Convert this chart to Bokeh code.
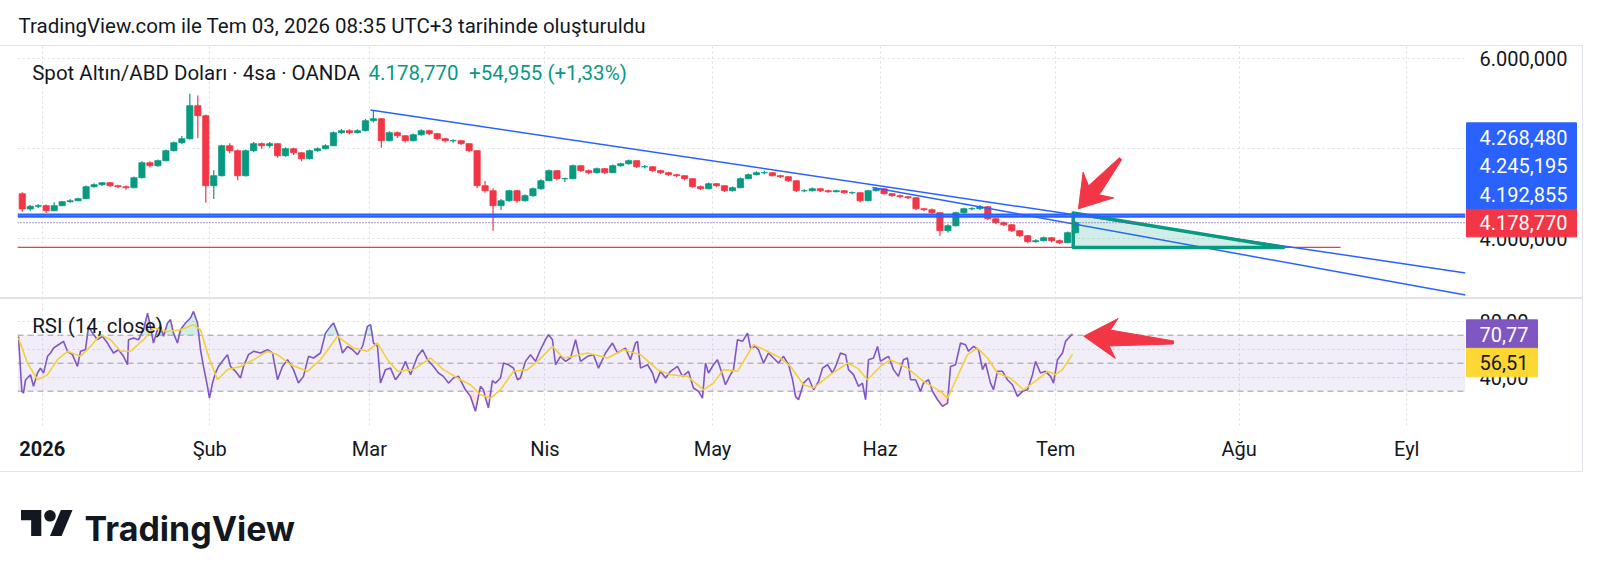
import math
import numpy as np
from bokeh.plotting import figure
from bokeh.layouts import column
from bokeh.models import Range1d, FixedTicker, Label, BoxAnnotation, Span, ColumnDataSource
from bokeh.embed import file_html
from bokeh.resources import INLINE
from bokeh.core.properties import value

# ---------------- texts ----------------
HEADER = "TradingView.com ile Tem 03, 2026 08:35 UTC+3 tarihinde oluşturuldu"
SYMBOL = "Spot Altın/ABD Doları · 4sa · OANDA"
LAST_PRICE = 4178.770
CHANGE = 54.955
CHANGE_PCT = 1.33
RSI_TITLE = "RSI (14, close)"
BRAND = "TradingView"

# ---------------- x axis: trading-day index (first session of 2026 = 0) ----------------
month_pos = [0, 21, 41, 63, 84, 105, 127, 150, 171]
month_labels = ["2026", "Şub", "Mar", "Nis", "May", "Haz", "Tem", "Ağu", "Eyl"]

# ---------------- daily candles, Dec 29 .. Jul 3 ----------------
first_day = -3
first_open = 4500
closes = [4330, 4360, 4367, 4311, 4367, 4411, 4422, 4444, 4578,
          4600, 4622, 4589, 4578, 4567, 4678, 4844, 4811, 4867, 4978,
          5067, 5111, 5478, 5367, 4589, 4700, 5033, 4978, 4700, 4978,
          5056, 5033, 5056, 4922, 5000, 4955, 4889, 4978, 5000, 5033,
          5178, 5200, 5178, 5200, 5311, 5333, 5089, 5178, 5144, 5089,
          5155, 5200, 5167, 5111, 5089, 5089, 5056, 4978, 4589, 4533,
          4367, 4422, 4533, 4422, 4478, 4555, 4644, 4756, 4667,
          4667, 4811, 4756, 4733, 4778, 4733, 4811, 4833, 4867, 4800,
          4800, 4756, 4733, 4711, 4700, 4667, 4578, 4555, 4611, 4589,
          4533, 4567, 4667, 4711, 4733, 4733, 4700, 4689, 4644, 4533,
          4533, 4555, 4533, 4522, 4533, 4511, 4511, 4422, 4533, 4555,
          4500, 4478, 4467, 4455, 4333, 4322, 4289, 4089, 4144, 4289,
          4333, 4333, 4355, 4222, 4178, 4155, 4089, 4033, 3967, 3978,
          4011, 3978, 3955, 4067, 4178.77]
highs = [4515, 4375, 4385, 4380, 4405, 4420, 4440, 4455, 4590,
         4615, 4630, 4630, 4600, 4590, 4690, 4860, 4860, 4880, 4990,
         5080, 5140, 5611, 5590, 5380, 4760, 5045, 5060, 4990, 4990,
         5075, 5070, 5075, 5060, 5015, 5010, 4960, 4990, 5015, 5050,
         5190, 5220, 5215, 5215, 5330, 5430, 5340, 5195, 5190, 5150,
         5170, 5215, 5210, 5175, 5120, 5105, 5095, 5060, 4985, 4640,
         4560, 4440, 4545, 4540, 4495, 4570, 4660, 4770, 4760,
         4680, 4825, 4815, 4770, 4790, 4785, 4825, 4845, 4880, 4870,
         4820, 4805, 4765, 4740, 4720, 4705, 4670, 4590, 4625, 4620,
         4595, 4580, 4680, 4725, 4750, 4755, 4740, 4710, 4695, 4650,
         4550, 4570, 4560, 4545, 4545, 4540, 4525, 4515, 4545, 4570,
         4560, 4505, 4490, 4475, 4460, 4345, 4335, 4295, 4160, 4300,
         4345, 4350, 4375, 4360, 4230, 4190, 4160, 4095, 4040, 3995,
         4025, 4020, 3990, 4080, 4190]
lows = [4300, 4310, 4340, 4285, 4305, 4360, 4400, 4415, 4440,
        4565, 4585, 4575, 4560, 4545, 4560, 4670, 4790, 4800, 4860,
        4970, 5050, 5100, 5120, 4400, 4440, 4690, 4950, 4650, 4690,
        4960, 5000, 5010, 4900, 4910, 4930, 4860, 4880, 4965, 4990,
        5030, 5160, 5160, 5170, 5195, 5290, 5010, 5080, 5120, 5070,
        5080, 5145, 5150, 5100, 5070, 5065, 5040, 4960, 4560, 4510,
        4089, 4320, 4410, 4400, 4410, 4465, 4545, 4640, 4650,
        4630, 4660, 4740, 4715, 4725, 4720, 4730, 4800, 4825, 4785,
        4780, 4740, 4720, 4700, 4685, 4650, 4565, 4540, 4550, 4575,
        4520, 4525, 4560, 4660, 4705, 4715, 4690, 4675, 4630, 4520,
        4515, 4525, 4520, 4510, 4515, 4500, 4495, 4405, 4415, 4525,
        4490, 4465, 4450, 4440, 4320, 4305, 4270, 4030, 4070, 4135,
        4280, 4315, 4320, 4205, 4160, 4140, 4075, 4015, 3950, 3955,
        3970, 3960, 3940, 3950, 4060]

price_ticks = [4000, 5000, 6000]
rsi_ticks = [40, 60, 80]

# ---------------- drawings ----------------
level_lines = [4268.480, 4245.195]
support_level = 3903
support_end = 162.7
trend_upper_t = [41.14, 178.36]
trend_upper_p = [5430, 3619]
trend_lower_t = [104.04, 178.36]
trend_lower_p = [4570, 3374]
tri_t = [129.2, 129.2, 155.55]
tri_p = [4285, 3903, 3903]
price_tag_values = [4178.770, 4192.855, 4245.195, 4268.480]
arrow_price_tip = (129.86, 4333)
arrow_price_tail = (135.13, 4889)
arrow_rsi_tip = (130.53, 69.3)
arrow_rsi_tail = (141.77, 64.8)

# ---------------- RSI (14) and its moving average ----------------
rsi_t = [-2.97, -2.55, -2.35, -2.09, -1.47, -1.09, -0.59, -0.22, 0.17, 0.67, 1.04, 1.41, 2.04,
         2.67, 3.17, 3.79, 4.42, 4.80, 5.42, 5.81, 6.31, 6.92, 7.55, 8.18, 8.93, 9.56, 10.19,
         10.69, 10.82, 11.44, 12.07, 12.70, 13.20, 13.57, 13.94, 14.44, 14.83, 15.20, 15.70,
         16.08, 16.45, 16.95, 17.33, 17.95, 18.58, 18.96, 19.46, 19.84, 20.21, 20.71, 20.96,
         21.34, 21.72, 22.09, 22.72, 23.22, 23.59, 24.22, 24.85, 25.23, 25.85, 26.48, 27.36,
         28.23, 28.86, 29.49, 30.11, 30.74, 31.49, 32.11, 32.74, 33.37, 34.00, 34.87, 35.50,
         36.12, 36.51, 37.01, 37.63, 38.26, 38.89, 39.51, 40.14, 40.76, 41.15, 41.52, 42.02,
         42.39, 43.02, 43.65, 44.27, 44.90, 45.53, 46.16, 47.03, 47.66, 48.28, 49.04, 49.66,
         50.28, 50.91, 51.54, 52.17, 53.04, 53.67, 54.29, 54.92, 55.29, 55.55, 55.92, 56.42,
         56.80, 57.43, 57.81, 58.43, 59.06, 59.56, 59.93, 60.56, 61.19, 61.82, 62.44, 63.07,
         63.44, 63.94, 64.33, 64.95, 65.58, 66.21, 66.84, 67.46, 68.34, 69.08, 69.71, 70.59,
         71.46, 72.09, 72.72, 73.09, 73.72, 74.35, 74.60, 74.98, 75.86, 76.48, 76.86, 77.49,
         78.11, 78.74, 79.61, 80.24, 80.99, 81.61, 82.24, 82.74, 83.12, 83.50, 84.12, 84.62,
         85.25, 85.62, 86.25, 86.63, 87.13, 87.76, 88.39, 88.76, 89.39, 89.76, 90.39, 91.02,
         91.64, 92.27, 92.90, 93.53, 94.03, 94.40, 94.78, 95.41, 96.04, 96.67, 97.29, 97.79,
         98.41, 99.04, 99.42, 100.04, 100.67, 101.04, 101.67, 102.29, 102.79, 103.18, 103.55,
         104.18, 104.68, 105.05, 105.68, 106.06, 106.68, 107.30, 107.93, 108.43, 108.82,
         109.44, 110.07, 110.44, 111.07, 111.57, 112.20, 112.83, 113.45, 113.83, 114.45,
         115.08, 115.71, 116.08, 116.71, 117.34, 117.84, 118.21, 118.84, 119.21, 119.71,
         120.34, 120.96, 121.59, 122.22, 122.85, 123.47, 124.10, 124.48, 125.10, 125.73,
         126.36, 126.73, 127.23, 127.86, 128.24, 128.61, 129.11]
rsi_v = [69.1, 30.0, 28.7, 38.0, 41.8, 33.5, 43.0, 46.5, 43.0, 54.9, 57.3, 60.8, 63.2,
         65.6, 58.5, 56.1, 47.7, 58.5, 59.6, 76.3, 71.5, 66.8, 69.2, 64.4, 57.3, 59.6, 54.9,
         48.9, 66.8, 68.0, 66.8, 73.9, 85.8, 76.3, 64.4, 73.9, 76.3, 69.2, 78.7,
         81.1, 71.5, 64.4, 73.9, 78.7, 82.3, 87.0, 78.7, 59.6, 47.7, 33.5, 25.1,
         35.8, 43.0, 47.7, 52.5, 56.1, 47.7, 44.2, 39.4, 47.7, 56.1, 58.5, 57.3,
         59.6, 57.3, 38.2, 47.7, 52.5, 45.4, 35.8, 40.6, 54.9, 53.7, 57.3, 71.5,
         76.3, 78.7, 71.5, 57.3, 62.0, 59.6, 56.1, 62.0, 76.3, 77.5, 64.4, 62.0,
         35.8, 45.4, 46.5, 38.2, 43.0, 51.3, 41.8, 54.9, 59.6, 52.5, 47.7, 43.0,
         40.6, 35.8, 39.4, 40.6, 31.0, 26.3, 15.6, 33.5, 31.0, 25.1, 18.0, 37.5,
         35.8, 39.4, 50.1, 48.9, 46.5, 38.2, 39.4, 51.3, 56.1, 51.3, 59.6, 66.8,
         70.4, 66.8, 48.9, 54.9, 51.3, 53.7, 66.8, 51.3, 54.9, 56.1, 46.5, 57.3,
         64.4, 57.3, 59.6, 60.8, 52.5, 64.4, 65.6, 46.5, 48.9, 43.0, 35.8, 44.2,
         39.4, 44.2, 47.7, 40.6, 44.2, 32.3, 29.9, 25.1, 50.1, 43.0, 48.9, 52.5,
         41.8, 34.6, 41.8, 45.4, 66.8, 65.6, 71.5, 60.8, 62.0, 59.6, 50.1, 57.3,
         53.7, 50.1, 54.9, 48.9, 38.2, 26.3, 23.9, 35.8, 39.4, 31.0, 37.0, 46.5,
         48.9, 43.0, 47.7, 57.3, 56.1, 45.4, 41.8, 33.5, 35.8, 23.9, 52.5,
         53.7, 62.0, 51.3, 53.7, 54.9, 45.4, 40.6, 52.5, 53.7, 38.2,
         38.2, 29.9, 35.8, 38.2, 29.9, 23.9, 19.2, 21.5, 47.7, 48.9,
         64.4, 63.2, 58.5, 62.0, 59.6, 45.4, 50.1, 35.8, 31.0, 44.2,
         44.2, 38.2, 34.6, 26.3, 29.9, 31.0, 41.8, 51.3, 43.0, 44.2,
         40.6, 35.8, 52.5, 57.3, 65.6, 68.0, 70.77]
rsi_ma_t = [-2.97, -1.84, -0.59, 0.67, 1.92, 3.17, 4.80, 6.05, 7.31, 8.56, 9.81, 11.06, 12.70,
            13.94, 15.70, 17.33, 18.96, 19.84, 20.84, 21.96, 23.22, 24.85, 26.48, 28.23, 29.49,
            31.11, 33.24, 34.87, 37.01, 39.01, 40.76, 42.02, 43.27, 44.52, 46.53, 48.66, 50.28,
            52.42, 53.67, 54.92, 56.18, 57.43, 59.06, 60.82, 62.07, 63.94, 65.33, 66.58, 68.34,
            70.84, 72.84, 74.98, 77.10, 78.74, 80.86, 82.87, 84.12, 85.38, 87.13, 89.14, 90.89,
            92.52, 93.77, 95.41, 96.67, 98.78, 100.92, 102.17, 103.42, 105.05, 106.30, 108.43,
            110.44, 112.57, 113.45, 114.70, 115.95, 117.21, 118.46, 119.71, 121.34, 122.97,
            124.73, 125.98, 126.99, 127.86, 129.11]
rsi_ma_v = [68.0, 50.0, 38.2, 41.8, 52.5, 58.5, 54.9, 62.0, 70.4, 66.8, 58.5, 58.5, 66.8,
            75.1, 72.7, 73.9, 77.5, 73.9, 54.9, 38.2, 45.4, 47.7, 52.5, 58.5, 56.1,
            48.9, 44.2, 52.5, 69.2, 60.8, 58.5, 64.4, 52.5, 44.2, 45.4, 53.7, 45.4,
            38.2, 34.6, 27.5, 25.1, 31.0, 44.2, 45.4, 51.3, 62.0, 53.7, 54.9, 57.3,
            53.7, 59.6, 56.1, 45.4, 41.8, 40.6, 31.0, 35.8, 45.4, 44.2, 63.2, 58.5,
            53.7, 47.7, 34.6, 32.3, 41.8, 50.1, 46.5, 38.2, 47.7, 52.5, 46.5,
            37.0, 29.9, 25.1, 40.6, 56.1, 60.8, 53.7, 43.0, 39.4, 31.0,
            38.2, 44.2, 41.8, 45.4, 56.51]
rsi_levels = [70, 50, 30]

# ---------------- logo shapes (decoration, pixel units of the logo strip) ----------------
logo_block_x = [20.5, 40.8, 40.8, 30.65, 30.65, 20.5]
logo_block_y = [59.5, 59.5, 33.4, 33.4, 49.35, 49.35]
logo_dot = (49.5, 53.7, 5.8)
logo_slash_x = [49.5, 61.1, 72.0, 60.4]
logo_slash_y = [33.4, 33.4, 59.5, 59.5]

# ---------------- style ----------------
FONT = "Roboto"
TXT = "#131722"
GREEN = "#089981"
RED = "#f23645"
BLUE = "#2962ff"
PURPLE = "#7e57c2"
YELLOW = "#fdd835"
GRID = "#dcdfe5"
BORDER = "#e0e3eb"
FS = "20.5px"
AFS = "20px"

W = 1583
PX_L, PX_R = 17, 1465          # frame edges shared by all rows of the column
XL, XR = -3.095, 178.36
P_LO, P_HI = 3335.6, 6135.6
R_LO, R_HI = 5.5, 95.5
FRAME_W = PX_R - PX_L
P_H = 252
R_FRAME_H = 126
R_AXIS_H = 49
LOGO_H = 97
SX = FRAME_W / (XR - XL)
SYP = P_H / (P_HI - P_LO)
SYR = R_FRAME_H / (R_HI - R_LO)


def tr(v, d):
    s = f"{v:,.{d}f}"
    return s.replace(",", "X").replace(".", ",").replace("X", ".")


def arrow_patch(tip, tail, sx, sy, hl, hw, w1, w2):
    tx, ty = tip[0] * sx, tip[1] * sy
    ax, ay = tail[0] * sx, tail[1] * sy
    dx, dy = ax - tx, ay - ty
    L = math.hypot(dx, dy)
    ux, uy = dx / L, dy / L
    nx, ny = -uy, ux
    bx, by = tx + ux * hl, ty + uy * hl
    jx, jy = tx + ux * (hl - 7), ty + uy * (hl - 7)
    pts = [(tx, ty),
           (bx + nx * hw / 2, by + ny * hw / 2),
           (jx + nx * w1 / 2, jy + ny * w1 / 2),
           (ax + nx * w2 / 2, ay + ny * w2 / 2),
           (ax - nx * w2 / 2, ay - ny * w2 / 2),
           (jx - nx * w1 / 2, jy - ny * w1 / 2),
           (bx - nx * hw / 2, by - ny * hw / 2)]
    return [q[0] / sx for q in pts], [q[1] / sy for q in pts]


def style_axis(ax, standoff):
    ax.axis_line_color = None
    ax.major_tick_line_color = None
    ax.minor_tick_line_color = None
    ax.major_tick_out = 0
    ax.major_tick_in = 0
    ax.minor_tick_out = 0
    ax.major_label_text_font = FONT
    ax.major_label_text_font_size = AFS
    ax.major_label_text_color = TXT
    ax.major_label_standoff = standoff


def axis_tag(fig, x_anchor, y_anchor, right_px, left_px, stack_px, sy, text, fill, color):
    """price tag drawn over the axis strip, right edge at right_px from the frame edge"""
    yc = y_anchor + stack_px / sy
    cx = x_anchor + (left_px + right_px) / 2 / SX
    fig.rect(x=[cx], y=[yc], width=right_px - left_px, height=28.5, width_units="screen",
             height_units="screen", fill_color=fill, line_color=fill, level="overlay")
    fig.text(x=[x_anchor], y=[yc], x_offset=right_px - 9, text=[text], text_font=value(FONT),
             text_font_size=AFS, text_color=color, text_align="right", text_baseline="middle",
             level="overlay")


xr = Range1d(XL, XR)

# ---------------- header ----------------
head = figure(width=W, height=45, x_range=Range1d(PX_L, PX_R), y_range=Range1d(0, 45),
              min_border=0, x_axis_location=None, y_axis_location=None,
              toolbar_location=None, output_backend="svg", outline_line_color=None)
head.grid.visible = False
head.text(x=[18], y=[19.9], text=[HEADER], text_font=value(FONT), text_font_size=FS,
          text_color=TXT, text_baseline="alphabetic", text_align="left")

# ---------------- price pane ----------------
p = figure(width=W, height=P_H, x_range=xr, y_range=Range1d(P_LO, P_HI),
           x_axis_location=None, y_axis_location="right",
           min_border_left=PX_L, min_border_right=W - PX_R, min_border_top=0, min_border_bottom=0,
           toolbar_location=None, output_backend="svg", outline_line_color=None)
p.styles = {"border-top": f"1px solid {BORDER}", "border-right": f"1px solid {BORDER}"}
p.yaxis.ticker = FixedTicker(ticks=price_ticks)
# the middle tick label sits behind the stacked price tags, as in TradingView
p.yaxis.major_label_overrides = {t: (tr(t, 3) if t != 5000 else "") for t in price_ticks}
style_axis(p.yaxis[0], 14)
p.xgrid.ticker = FixedTicker(ticks=month_pos)
p.ygrid.ticker = FixedTicker(ticks=price_ticks)
for g in (p.xgrid[0], p.ygrid[0]):
    g.grid_line_color = GRID
    g.grid_line_dash = "2 3"

p.line([XL, support_end], [support_level, support_level], line_color=RED, line_width=1.3)
for lv in level_lines:
    p.add_layout(Span(location=lv, dimension="width", line_color=BLUE, line_width=2.2, level="glyph"))
p.add_layout(Span(location=LAST_PRICE, dimension="width", line_color="#7e5a9b",
                  line_width=1.2, line_dash="1 2", level="glyph"))

c = np.array(closes, dtype=float)
o = np.r_[first_open, c[:-1]]
h = np.array(highs, dtype=float)
lo = np.array(lows, dtype=float)
xx = np.arange(len(c)) + first_day + 0.5
up = c >= o
for mask, col in ((up, GREEN), (~up, RED)):
    src = ColumnDataSource(dict(x=xx[mask], h=h[mask], l=lo[mask],
                                top=np.maximum(o, c)[mask], bot=np.minimum(o, c)[mask]))
    p.segment(x0="x", y0="l", x1="x", y1="h", source=src, line_color=col, line_width=1.2)
    p.vbar(x="x", width=0.78, top="top", bottom="bot", source=src, fill_color=col,
           line_color=col, line_width=0.8)

p.line(trend_upper_t, trend_upper_p, line_color=BLUE, line_width=1.5)
p.line(trend_lower_t, trend_lower_p, line_color=BLUE, line_width=1.5)
p.patch(tri_t, tri_p, fill_color=GREEN, fill_alpha=0.18, line_color=GREEN, line_width=3.5,
        line_join="round")
axs, ays = arrow_patch(arrow_price_tip, arrow_price_tail, SX, SYP, 31, 40, 14, 3)
p.patch(axs, ays, fill_color=RED, line_color=RED, line_width=1, line_join="round")

p.add_layout(Label(x=XL, y=P_HI, x_offset=14.7, y_offset=-26.8, text=SYMBOL, text_font=FONT,
                   text_font_size=FS, text_color=TXT, text_baseline="alphabetic"))
p.add_layout(Label(x=XL, y=P_HI, x_offset=351, y_offset=-26.8,
                   text=f"{tr(LAST_PRICE, 3)}\u2002+{tr(CHANGE, 3)} (+{tr(CHANGE_PCT, 2)}%)",
                   text_font=FONT, text_font_size=FS, text_color=GREEN, text_baseline="alphabetic"))

tag_cols = [RED, BLUE, BLUE, BLUE]
for k, (v, col) in enumerate(zip(price_tag_values, tag_cols)):
    axis_tag(p, XR, LAST_PRICE, 111, 1, 28.5 * k, SYP, tr(v, 3), col, "white")

# ---------------- RSI pane ----------------
r = figure(width=W, height=R_FRAME_H + R_AXIS_H, x_range=xr, y_range=Range1d(R_LO, R_HI),
           x_axis_location="below", y_axis_location="right",
           min_border_left=PX_L, min_border_right=W - PX_R, min_border_top=0,
           min_border_bottom=R_AXIS_H,
           toolbar_location=None, output_backend="svg", outline_line_color=None)
r.styles = {"border-top": f"2px solid {BORDER}", "border-right": f"1px solid {BORDER}",
            "border-bottom": f"1px solid {BORDER}"}
r.yaxis.ticker = FixedTicker(ticks=rsi_ticks)
r.yaxis.major_label_overrides = {t: (tr(t, 2) if t != 60 else "") for t in rsi_ticks}
style_axis(r.yaxis[0], 14)
r.xaxis.ticker = FixedTicker(ticks=month_pos)
r.xaxis.major_label_overrides = {pp: (lab if i > 0 else "") for i, (pp, lab) in
                                 enumerate(zip(month_pos, month_labels))}
style_axis(r.xaxis[0], 11)
r.xgrid.ticker = FixedTicker(ticks=month_pos)
r.ygrid.ticker = FixedTicker(ticks=rsi_ticks)
for g in (r.xgrid[0], r.ygrid[0]):
    g.grid_line_color = GRID
    g.grid_line_dash = "2 3"

r.add_layout(BoxAnnotation(bottom=rsi_levels[2], top=rsi_levels[0], fill_color=PURPLE,
                           fill_alpha=0.1, line_color=None, level="underlay"))
for lv in rsi_levels:
    r.add_layout(Span(location=lv, dimension="width", line_color="#9a9ca6", line_width=1,
                      line_dash="6 4", level="underlay"))

rt = np.array(rsi_t)
rv = np.array(rsi_v)
r.varea(x=rt, y1=np.full_like(rv, 70.0), y2=np.maximum(rv, 70.0), fill_color=GREEN, fill_alpha=0.18)
r.varea(x=rt, y1=np.minimum(rv, 30.0), y2=np.full_like(rv, 30.0), fill_color=RED, fill_alpha=0.15)
r.line(rsi_t, rsi_v, line_color=PURPLE, line_width=1.6)
r.line(rsi_ma_t, rsi_ma_v, line_color="#f5cf3a", line_width=1.6)

bxs, bys = arrow_patch(arrow_rsi_tip, arrow_rsi_tail, SX, SYR, 33, 40, 16, 3)
r.patch(bxs, bys, fill_color=RED, line_color=RED, line_width=1, line_join="round")

r.add_layout(Label(x=XL, y=R_HI, x_offset=14.7, y_offset=-26.5, text=RSI_TITLE, text_font=FONT,
                   text_font_size=FS, text_color=TXT, text_baseline="alphabetic"))
# the year label is bold in TradingView: drawn on the axis strip
r.text(x=[month_pos[0]], y=[R_LO], y_offset=22.5, text=[month_labels[0]], text_font=value(FONT),
       text_font_size=AFS, text_font_style="bold", text_color=TXT, text_align="center",
       text_baseline="alphabetic", level="overlay")

rsi_last = rsi_v[-1]
rsi_ma_last = rsi_ma_v[-1]
axis_tag(r, XR, rsi_last, 72, 1, 0, SYR, tr(rsi_last, 2), PURPLE, "white")
axis_tag(r, XR, rsi_last, 72, 1, -28.5, SYR, tr(rsi_ma_last, 2), YELLOW, TXT)

# ---------------- logo ----------------
lg = figure(width=W, height=LOGO_H, x_range=Range1d(PX_L, PX_R), y_range=Range1d(0, LOGO_H),
            min_border=0, x_axis_location=None, y_axis_location=None,
            toolbar_location=None, output_backend="svg", outline_line_color=None)
lg.grid.visible = False
lg.patch(logo_block_x, logo_block_y, fill_color=TXT, line_color=None)
lg.patch(logo_slash_x, logo_slash_y, fill_color=TXT, line_color=None)
lg.circle(x=[logo_dot[0]], y=[logo_dot[1]], radius=logo_dot[2], fill_color=TXT, line_color=None)
lg.text(x=[84], y=[41.4], text=[BRAND], text_font=value("Inter"), text_font_size="34px",
        text_font_style="bold", text_color=TXT, text_baseline="alphabetic")

layout = column(head, p, r, lg)
open("out.html", "w").write(file_html(layout, INLINE))
